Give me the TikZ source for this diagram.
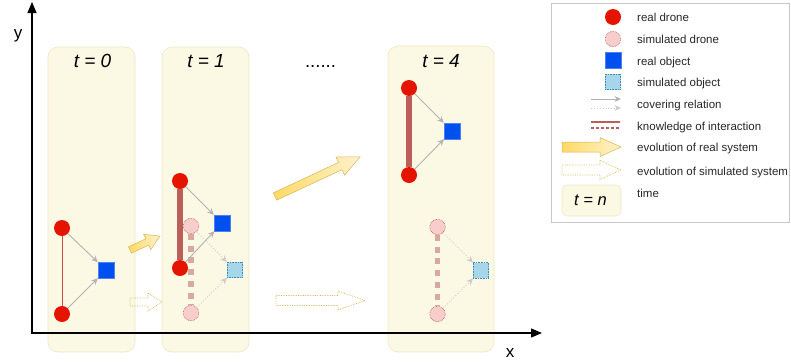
\documentclass[tikz,border=0pt]{standalone}
\usepackage{fontspec}
\setmainfont{Liberation Sans}
\setsansfont{Liberation Sans}
\usetikzlibrary{arrows.meta}
\definecolor{panelfill}{HTML}{FBF8E4}
\definecolor{panelline}{HTML}{EEE8C4}
\definecolor{droneRed}{HTML}{E51400}
\definecolor{simPink}{HTML}{F8CECC}
\definecolor{simPinkLine}{HTML}{B85450}
\definecolor{objBlue}{HTML}{0050EF}
\definecolor{objBlueLine}{HTML}{4D80F0}
\definecolor{simBlue}{HTML}{A7D6EA}
\definecolor{simBlueLine}{HTML}{3E8FB8}
\definecolor{knowRed}{HTML}{BC5F5B}
\definecolor{sknowRed}{HTML}{D8A8A2}
\definecolor{coverGray}{HTML}{B3B3B3}
\definecolor{scoverGray}{HTML}{CCCCCC}
\definecolor{evoFillA}{HTML}{FFD966}
\definecolor{evoFillB}{HTML}{FFF2CC}
\definecolor{evoLine}{HTML}{D6B656}
\definecolor{legLine}{HTML}{C8C8C8}
\tikzset{
  panel/.style={rounded corners=10pt, fill=panelfill, draw=panelline, line width=0.6pt},
  rdrone/.style={circle, fill=droneRed, draw=none, minimum size=16pt, inner sep=0pt},
  sdrone/.style={circle, fill=simPink, draw=simPinkLine, densely dotted, line width=0.6pt, minimum size=15.5pt, inner sep=0pt},
  robj/.style={rectangle, fill=objBlue, draw=objBlueLine, line width=0.4pt, minimum size=16pt, inner sep=0pt},
  sobj/.style={rectangle, fill=simBlue, draw=simBlueLine, densely dotted, line width=0.6pt, minimum size=15.5pt, inner sep=0pt},
  cover/.style={draw=coverGray, line width=0.9pt, -{Stealth[length=6.5pt,width=6pt]}},
  scover/.style={draw=scoverGray, line width=0.9pt, dotted, -{Stealth[length=6.5pt,width=6pt]}},
  know/.style={draw=knowRed, line width=5.5pt},
  sknow/.style={draw=sknowRed, line width=5.5pt, dash pattern=on 6pt off 5.7pt},
  thinknow/.style={draw=knowRed!80!red, line width=1pt},
  evo/.style={draw=evoLine, line width=0.5pt, left color=evoFillA, right color=evoFillB},
  sevo/.style={draw=evoLine, line width=0.7pt, densely dotted},
  pics/fatarrow/.style args={#1/#2/#3/#4}{code={
    \path[pic actions] (0,-#2) -- (#1-#4,-#2) -- (#1-#4,-#3) -- (#1,0) -- (#1-#4,#3) -- (#1-#4,#2) -- (0,#2) -- cycle;}},
  ttl/.style={font=\fontsize{19}{21}\selectfont\sffamily\itshape, anchor=base, inner sep=0pt},
  leg/.style={font=\fontsize{11.5}{13}\selectfont, anchor=base west, text=black!85, inner sep=0pt},
  axis/.style={line width=1.3pt, -{Triangle[length=11pt,width=9pt]}}
}
\begin{document}
\begin{tikzpicture}[x=1pt,y=-1pt]
\useasboundingbox (0,0) rectangle (791,362);
% panels
\draw[panel] (48,47) rectangle (135,352);
\draw[panel] (162,47) rectangle (249,352);
\draw[panel] (388,46) rectangle (494,352);
% axes
\coordinate (O) at (32,334);
\coordinate (ytip) at (32,2);
\coordinate (xtip) at (542,333);
\draw[axis] (O) -- (ytip);
\draw[axis] (31,333) -- (xtip);
\node[font=\fontsize{17}{19}\selectfont, anchor=base, inner sep=0pt] (ylab) at (18,38) {y};
\node[font=\fontsize{17}{19}\selectfont, anchor=base, inner sep=0pt] (xlab) at (510,357) {x};
% titles
\node[ttl] (t0) at (92.5,67) {t = 0};
\node[ttl] (t1) at (206,67) {t = 1};
\node[ttl] (t4) at (441,67) {t = 4};
\node[font=\fontsize{18.5}{20}\selectfont, anchor=base, inner sep=0pt] (dots) at (320.5,67.5) {......};
% t = 0
\node[robj] (o0) at (106,270) {};
\node[rdrone] (a0) at (62,228) {};
\node[rdrone] (b0) at (62,314) {};
\draw[thinknow] (a0) -- (b0);
\draw[cover] (a0) -- (o0);
\draw[cover] (b0) -- (o0);
% t = 1
\node[sobj] (so1) at (235,270) {};
\node[sdrone] (sa1) at (191,226) {};
\node[sdrone] (sb1) at (191,313) {};
\draw[sknow] (sa1.south) -- (sb1.north);
\draw[scover] (sa1) -- (so1);
\draw[scover] (sb1) -- (so1);
\node[robj] (o1) at (222,223) {};
\node[rdrone] (a1) at (180,181) {};
\node[rdrone] (b1) at (180,268) {};
\draw[know] (a1) -- (b1);
\draw[cover] (a1) -- (o1);
\draw[cover] (b1) -- (o1);
% t = 4
\node[robj] (o4) at (452,131) {};
\node[rdrone] (a4) at (409,88) {};
\node[rdrone] (b4) at (409,175) {};
\draw[know] (a4) -- (b4);
\draw[cover] (a4) -- (o4);
\draw[cover] (b4) -- (o4);
\node[sobj] (so4) at (481,270.5) {};
\node[sdrone] (sa4) at (437.5,227) {};
\node[sdrone] (sb4) at (437.5,314) {};
\draw[sknow] (sa4.south) -- (sb4.north);
\draw[scover] (sa4) -- (so4);
\draw[scover] (sb4) -- (so4);
% evolution arrows
\pic[evo, shift={(130,250)}, rotate=25] (e1) {fatarrow={33/3.5/8.5/14}};
\pic[evo, shift={(275,196.5)}, rotate=25] (e2) {fatarrow={94/4/10/22}};
\pic[sevo, shift={(130,302)}] (s1) {fatarrow={32/4/9/14}};
\pic[sevo, shift={(276,300.5)}] (s2) {fatarrow={89/5/9.5/27}};
% legend
\draw[draw=legLine, line width=0.8pt] (551,3) rectangle (789,222);
\node[rdrone] (l1) at (613,17) {};
\node[sdrone] (l2) at (613,39) {};
\node[robj] (l3) at (613,60) {};
\node[sobj] (l4) at (613,82) {};
\coordinate (c1a) at (591,99);
\coordinate (c1b) at (621,99);
\coordinate (c2a) at (591,108);
\coordinate (c2b) at (621,108);
\draw[cover] (c1a) -- (c1b);
\draw[scover] (c2a) -- (c2b);
\coordinate (k1a) at (591,122);
\coordinate (k1b) at (620,122);
\coordinate (k2a) at (591,128);
\coordinate (k2b) at (620,128);
\draw[draw=knowRed, line width=2.5pt] (k1a) -- (k1b);
\draw[draw=knowRed, line width=2.5pt, dash pattern=on 2.5pt off 2.5pt] (k2a) -- (k2b);
\pic[evo, shift={(562,147)}] (l7) {fatarrow={59/5/9.5/21}};
\pic[sevo, shift={(562,170)}] (l8) {fatarrow={59/5/9.5/21}};
\draw[panel, rounded corners=5pt] (562,185) rectangle (621,216);
\node[ttl, font=\fontsize{16.5}{18}\selectfont\sffamily\itshape] (l9) at (590.5,205) {t = n};
\node[leg] (tx1) at (637,21) {real drone};
\node[leg] (tx2) at (637,43) {simulated drone};
\node[leg] (tx3) at (637,65) {real object};
\node[leg] (tx4) at (637,86) {simulated object};
\node[leg] (tx5) at (637,108) {covering relation};
\node[leg] (tx6) at (637,130) {knowledge of interaction};
\node[leg] (tx7) at (637,151) {evolution of real system};
\node[leg] (tx8) at (637,175) {evolution of simulated system};
\node[leg] (tx9) at (637,197) {time};
\end{tikzpicture}
\end{document}
